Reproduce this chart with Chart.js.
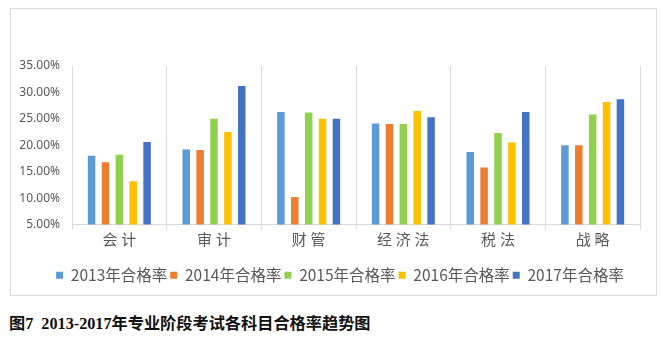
<!DOCTYPE html>
<html>
<head>
<meta charset="utf-8">
<script src="https://cdn.jsdelivr.net/npm/chart.js@4"></script>
<style>
  html, body { margin: 0; padding: 0; background: #fff; }
  body { width: 668px; height: 339px; position: relative; overflow: hidden; }
  #frame { position: absolute; left: 10px; top: 8px; width: 647px; height: 288px; box-sizing: border-box; border: 1px solid #dcdcdc; }
  #c { position: absolute; left: 0; top: 0; }
  #caption { position: absolute; left: 9px; top: 314px; font: bold 16.2px "Liberation Serif", "DejaVu Serif", "Noto Sans CJK SC", serif; color: #111; line-height: 20px; white-space: pre; }
</style>
</head>
<body>
<div id="frame"></div>
<canvas id="c" width="668" height="300"></canvas>
<div id="caption">图7  2013-2017年专业阶段考试各科目合格率趋势图</div>
<script>
const categories = ['会计', '审计', '财管', '经济法', '税法', '战略'];
const seriesNames = ['2013年合格率', '2014年合格率', '2015年合格率', '2016年合格率', '2017年合格率'];
const rate2013 = [18.0, 19.2, 26.3, 24.1, 18.7, 20.0];
const rate2014 = [16.8, 19.1, 10.2, 24.0, 15.8, 20.0];
const rate2015 = [18.2, 25.0, 26.2, 24.0, 22.3, 25.8];
const rate2016 = [13.2, 22.5, 25.0, 26.5, 20.5, 28.2];
const rate2017 = [20.6, 31.2, 25.0, 25.3, 26.3, 28.7];
const yTicks = [5, 10, 15, 20, 25, 30, 35];
const colors = ['#5B9BD5', '#ED7D31', '#92D050', '#FFC000', '#4472C4'];

const allSeries = [rate2013, rate2014, rate2015, rate2016, rate2017];
const textColor = '#595959';
const gridColor = '#d9d9d9';
const cjk = '"Noto Sans CJK SC", "Noto Sans", sans-serif';

const shiftLegend = {
  id: 'shiftLegend',
  afterLayout(chart) {
    const lg = chart.legend;
    if (lg) { lg.left += 20; lg.right += 20; }
  }
};

new Chart(document.getElementById('c'), {
  type: 'bar',
  data: {
    labels: categories,
    datasets: allSeries.map((d, i) => ({
      label: seriesNames[i],
      data: d,
      backgroundColor: colors[i],
      borderWidth: 0,
      categoryPercentage: 0.733,
      barPercentage: 0.54
    }))
  },
  plugins: [shiftLegend],
  options: {
    responsive: false,
    devicePixelRatio: 1,
    animation: false,
    layout: { padding: { left: 0, right: 28, top: 66, bottom: 7 } },
    plugins: {
      legend: {
        position: 'bottom',
        labels: {
          boxWidth: 7, boxHeight: 7, padding: 3,
          color: textColor,
          font: { size: 15.5, family: cjk }
        }
      },
      tooltip: { enabled: false }
    },
    scales: {
      x: {
        grid: { display: true, color: gridColor, offset: true, tickLength: 5, drawTicks: true },
        border: { display: true, color: gridColor },
        ticks: {
          color: textColor, padding: 1,
          font: { size: 15, family: cjk },
          callback: (v, i) => categories[i].split('').join('\u2005')
        },
        afterFit: s => { s.height = 40; }
      },
      y: {
        min: yTicks[0], max: yTicks[yTicks.length - 1],
        grid: { display: false, drawTicks: false },
        border: { display: false },
        afterBuildTicks: s => { s.ticks = yTicks.map(v => ({ value: v })); },
        ticks: {
          color: textColor, padding: 12,
          font: { size: 12, family: '"Noto Sans", sans-serif' },
          callback: v => Number(v).toFixed(2) + '%'
        },
        afterFit: s => { s.width = 72; }
      }
    }
  }
});
</script>
</body>
</html>
